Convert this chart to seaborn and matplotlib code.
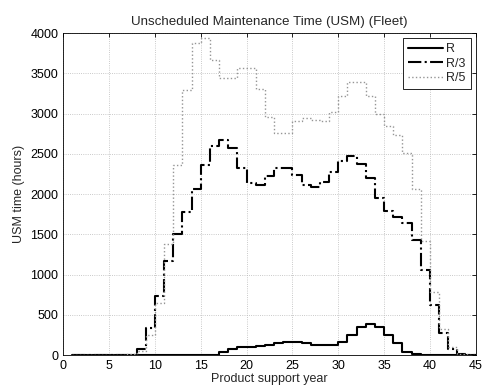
import numpy as np
import pandas as pd
import matplotlib
matplotlib.use("Agg")
import matplotlib.pyplot as plt
import seaborn as sns

# Fleet USM time per product support year (stairs, value held from year to year+1)
years = list(range(1, 46))

usm_r = [0] * 15 + [8, 37, 72, 98, 105, 112, 128, 155, 163, 160, 145, 132, 124,
                    124, 165, 256, 351, 388, 351, 256, 145, 45, 12] + [0] * 7

usm_r3 = [0] * 7 + [72, 340, 734, 1166, 1505, 1778, 2060, 2357, 2593, 2667, 2568,
                    2322, 2144, 2115, 2227, 2324, 2324, 2233, 2118, 2089, 2150, 2274,
                    2411, 2471, 2378, 2200, 1952, 1790, 1720, 1638, 1427, 1060, 620,
                    269, 77, 20] + [0] * 2

usm_r5 = [0] * 5 + [8, 10, 50, 245, 645, 1380, 2357, 3295, 3880, 3942, 3660, 3443,
                    3443, 3560, 3560, 3310, 2960, 2755, 2755, 2905, 2949, 2924, 2905,
                    3019, 3215, 3387, 3387, 3215, 3000, 2841, 2730, 2505, 2065, 1420,
                    785, 325, 103, 10] + [0] * 2

x_ticks = list(range(0, 46, 5))
y_ticks = list(range(0, 4001, 500))

sns.set_style("white")
plt.rcParams['font.family'] = ['Liberation Sans', 'DejaVu Sans']

fig = plt.figure(figsize=(4.86, 3.89), dpi=100)
ax = fig.add_axes([0.130, 0.087, 0.849, 0.828])

df = pd.DataFrame({'year': years, 'R': usm_r, 'R/3': usm_r3, 'R/5': usm_r5})

sns.lineplot(data=df, x='year', y='R', ax=ax, color='black', linewidth=1.5,
             drawstyle='steps-post', label='R')
sns.lineplot(data=df, x='year', y='R/3', ax=ax, color='black', linewidth=1.5,
             linestyle='-.', drawstyle='steps-post', label='R/3')
sns.lineplot(data=df, x='year', y='R/5', ax=ax, color='#959595', linewidth=1.0,
             linestyle=':', drawstyle='steps-post', label='R/5')

ax.set_xlim(0, 45)
ax.set_ylim(0, 4000)
ax.set_xticks(x_ticks)
ax.set_yticks(y_ticks)
ax.grid(True, linestyle=':', color='0.72', linewidth=0.6)
ax.tick_params(direction='in', length=3, labelsize=9, top=True, right=True,
               colors='black', width=0.6)
for s in ax.spines.values():
    s.set_color('black')
    s.set_linewidth(0.6)

ax.set_title('Unscheduled Maintenance Time (USM) (Fleet)', fontsize=9.6, pad=6)
ax.set_xlabel('Product support year', fontsize=9, labelpad=1)
ax.set_ylabel('USM time (hours)', fontsize=9, labelpad=4)

leg = ax.legend(loc='upper right', fontsize=9, fancybox=False, framealpha=1,
                edgecolor='black', handlelength=2.8, borderaxespad=0.4,
                labelspacing=0.2, handletextpad=0.3)
leg.get_frame().set_linewidth(0.6)

fig.savefig('out.png', dpi=100)
